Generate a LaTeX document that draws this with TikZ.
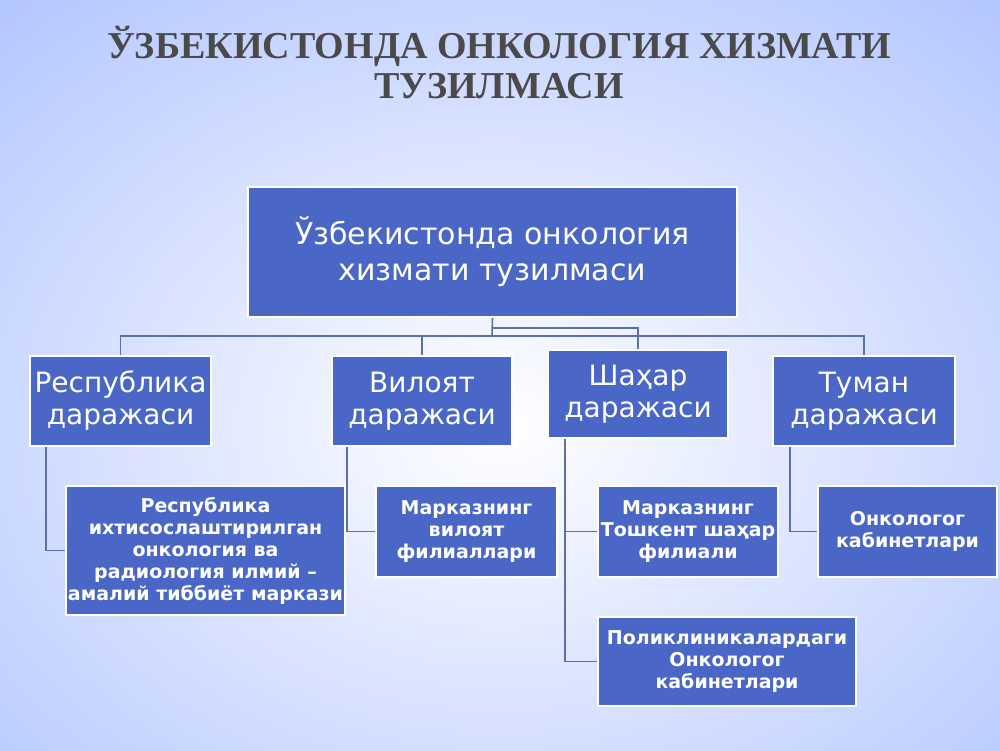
\documentclass[tikz,border=0pt]{standalone}
\usepackage{fontspec}
\setmainfont{DejaVu Sans}
\newfontfamily\titlefont{Liberation Serif}
\usetikzlibrary{positioning,calc}
\definecolor{boxblue}{HTML}{4A66C6}
\definecolor{linegray}{HTML}{5B6FA8}
\definecolor{titlegray}{HTML}{4A4A4A}
\begin{document}
\begin{tikzpicture}[x=0.5pt,y=-0.5pt,
  blk/.style={draw=white,line width=1.2pt,fill=boxblue,text=white,align=center,inner sep=1pt},
  lvl/.style={blk,font=\fontsize{14}{16}\selectfont},
  sub/.style={blk,font=\bfseries\fontsize{9.5}{11}\selectfont},
  link/.style={draw=linegray,line width=0.8pt}]

% background
\useasboundingbox (0,0) rectangle (1000,750);
\clip (0,0) rectangle (1000,750);
\shade[inner color=white,outer color=cyan!25!blue!30] (-250,-150) rectangle (1250,1000);

% title
\node[font=\titlefont\bfseries\fontsize{19}{20}\selectfont,text=titlegray,align=center] (title) at (499,63)
  {ЎЗБЕКИСТОНДА ОНКОЛОГИЯ ХИЗМАТИ\\ТУЗИЛМАСИ};

% boxes
\node[lvl,minimum width=244.5pt,minimum height=65pt,font=\fontsize{15}{18}\selectfont] (top) at (492.5,252) {Ўзбекистонда онкология\\хизмати тузилмаси};
\node[lvl,minimum width=90.5pt,minimum height=45pt] (rep) at (120.5,401) {Республика\\даражаси};
\node[lvl,minimum width=90pt,minimum height=45pt] (vil) at (422,401) {Вилоят\\даражаси};
\node[lvl,minimum width=90pt,minimum height=44pt] (sha) at (638,394) {Шаҳар\\даражаси};
\node[lvl,minimum width=91pt,minimum height=45pt] (tum) at (864,401) {Туман\\даражаси};

\node[sub,minimum width=130.5pt,minimum height=64.5pt] (repc) at (205.5,550.5) {Республика\\ихтисослаштирилган\\онкология ва\\радиология илмий –\\амалий тиббиёт маркази};
\node[sub,minimum width=90.5pt,minimum height=45.5pt] (vilf) at (466.5,531.5) {Марказнинг\\вилоят\\филиаллари};
\node[sub,minimum width=90pt,minimum height=45.5pt] (shaf) at (688,531.5) {Марказнинг\\Тошкент шаҳар\\филиали};
\node[sub,minimum width=89.5pt,minimum height=45.5pt] (tumk) at (907.5,531.5) {Онкологог\\кабинетлари};
\node[sub,minimum width=129pt,minimum height=44.5pt] (pol) at (727,661.5) {Поликлиникалардаги\\Онкологог\\кабинетлари};

% connectors
\coordinate (bus) at (492,336);
\draw[link] (top.south) -- (bus);
\draw[link] (rep.north) |- (bus) -| (tum.north);
\draw[link] (vil.north) -- (vil.north |- bus);
\draw[link] (top.south) |- ($(bus)+(0,-8)$) -| (sha.north);

\draw[link] ([xshift=8.5pt]rep.south west) |- (repc.west);
\draw[link] ([xshift=8pt]vil.south west) |- (vilf.west);
\draw[link] ([xshift=9pt]sha.south west) |- (shaf.west);
\draw[link] ([xshift=9pt]sha.south west) |- (pol.west);
\draw[link] ([xshift=9pt]tum.south west) |- (tumk.west);
\end{tikzpicture}
\end{document}
